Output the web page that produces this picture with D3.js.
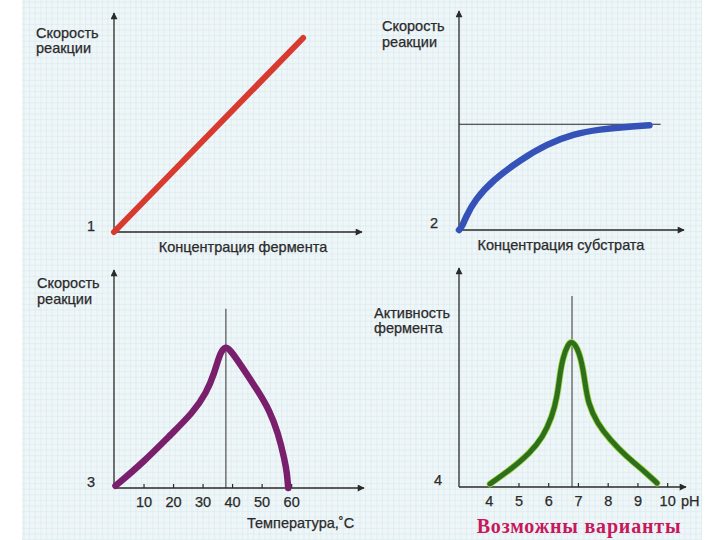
<!DOCTYPE html>
<html><head><meta charset="utf-8">
<script src="https://cdn.jsdelivr.net/npm/d3@7"></script>
<style>body{margin:0;background:#fff}svg{display:block}</style>
</head><body>
<svg id="c" width="720" height="540"></svg>
<script>
// ---- DATA ----
// Panel 1: rate vs enzyme concentration (linear)
const enzymeConc = [0, 7.75];
const rate1 = [0, 8.9];
// Panel 2: rate vs substrate concentration (saturation)
const substrateConc = [0, 0.13, 0.31, 0.71, 1.52, 2.72, 3.95, 5.1, 6.3, 7.5, 8.5];
const rate2 = [0, 0.14, 0.6, 1.38, 2.29, 3.21, 3.95, 4.4, 4.62, 4.74, 4.8];
const vmax = 4.85, vmaxEnd = 9.0;
// Panel 3: rate vs temperature
const temperature = [0.5, 9.7, 19.8, 26.6, 31.3, 34.0, 35.7, 37.4, 39.1, 42.5, 49.2, 52.6, 55.6, 57.8, 58.6, 59.0];
const rate3 = [0.1, 1.16, 2.55, 3.47, 4.4, 5.32, 6.16, 6.55, 6.45, 5.79, 4.4, 3.6, 2.55, 1.3, 0.69, 0.0];
const tempTicks = [10, 20, 30, 40, 50, 60];
const tempOpt = 37.9, tempOptTop = 8.3;
// Panel 4: enzyme activity vs pH
const ph = [4.04, 4.71, 5.39, 5.82, 6.13, 6.30, 6.40, 6.50, 6.67, 6.80, 6.97, 7.14, 7.24, 7.34, 7.64, 8.08, 8.65, 9.19, 9.66];
const activity = [0.14, 0.78, 1.57, 2.30, 3.23, 4.15, 5.25, 5.99, 6.6, 6.72, 6.45, 5.71, 4.79, 3.87, 2.95, 2.17, 1.38, 0.78, 0.18];
const phTicks = [4, 5, 6, 7, 8, 9, 10];
const phOpt = 6.8, phOptTop = 8.8;

const labels = {
  rate: ["Скорость", "реакции"],
  activity: ["Активность", "фермента"],
  x1: "Концентрация фермента",
  x2: "Концентрация субстрата",
  x3: "Температура,˚С",
  x4unit: "pH",
  note: "Возможны варианты"
};

// ---- DRAW ----
const svg = d3.select("#c");
const FONT = "'Liberation Sans', Arial, Helvetica, sans-serif";
const TXT = "#2a2a2a", AX = "#2a2a2a";

// graph-paper background
svg.append("rect").attr("x", 22).attr("y", 0).attr("width", 680).attr("height", 540).attr("fill", "#eef6f8");
const grid = svg.append("g").attr("stroke", "#d9e7ec").attr("stroke-width", 0.6);
d3.range(24, 702, 5.6).forEach(x => grid.append("line").attr("x1", x).attr("x2", x).attr("y1", 0).attr("y2", 540));
d3.range(2, 540, 5.6).forEach(y => grid.append("line").attr("x1", 22).attr("x2", 702).attr("y1", y).attr("y2", y));

const defs = svg.append("defs");
defs.append("marker").attr("id", "arr").attr("viewBox", "0 0 10 10").attr("refX", 9).attr("refY", 5)
  .attr("markerWidth", 10).attr("markerHeight", 7).attr("markerUnits", "userSpaceOnUse").attr("orient", "auto")
  .append("path").attr("d", "M0,0 L10,5 L0,10 z").attr("fill", AX);

function axes(x0, y0, x1, yTop) {
  svg.append("line").attr("x1", x0).attr("y1", y0).attr("x2", x0).attr("y2", yTop)
    .attr("stroke", AX).attr("stroke-width", 1.3).attr("marker-end", "url(#arr)");
  svg.append("line").attr("x1", x0).attr("y1", y0).attr("x2", x1).attr("y2", y0)
    .attr("stroke", AX).attr("stroke-width", 1.3).attr("marker-end", "url(#arr)");
}
function text(x, y, s, opts = {}) {
  return svg.append("text").attr("x", x).attr("y", y).text(s)
    .attr("font-family", opts.family || FONT).attr("font-size", opts.size || 14.5)
    .attr("fill", opts.fill || TXT).attr("text-anchor", opts.anchor || "start")
    .attr("font-weight", opts.weight || "normal")
    .attr("stroke", opts.fill || TXT).attr("stroke-width", opts.sw === undefined ? 0.25 : opts.sw);
}
function curve(xs, ys, sx, sy, color, width, under) {
  const pts = xs.map((v, i) => [v, ys[i]]);
  const line = d3.line().x(d => sx(d[0])).y(d => sy(d[1])).curve(d3.curveBasis);
  if (under) svg.append("path").attr("d", line(pts)).attr("fill", "none").attr("stroke", under)
      .attr("stroke-width", width + 1.6).attr("stroke-linecap", "round").attr("stroke-linejoin", "round");
  svg.append("path").attr("d", line(pts)).attr("fill", "none").attr("stroke", color)
    .attr("stroke-width", width).attr("stroke-linecap", "round").attr("stroke-linejoin", "round");
}
function styleAxis(g) {
  g.select(".domain").remove();
  g.selectAll("line").attr("stroke", AX).attr("stroke-width", 1.2);
  g.selectAll("text").attr("font-family", FONT).attr("font-size", 14.5).attr("fill", TXT)
    .attr("stroke", TXT).attr("stroke-width", 0.25);
}

// Panel 1
{
  const sx = d3.scaleLinear().domain([0, 10]).range([114, 358]);
  const sy = d3.scaleLinear().domain([0, 10]).range([232, 14]);
  axes(114, 232, 362, 13);
  curve(enzymeConc, rate1, sx, sy, "#d83a30", 6);
  text(36, 38, labels.rate[0]); text(36, 53, labels.rate[1]);
  text(87, 231, "1");
  text(243, 252, labels.x1, {anchor: "middle"});
}
// Panel 2
{
  const sx = d3.scaleLinear().domain([0, 10]).range([459, 683]);
  const sy = d3.scaleLinear().domain([0, 10]).range([230, 12]);
  svg.append("line").attr("x1", sx(0)).attr("x2", sx(vmaxEnd)).attr("y1", sy(vmax)).attr("y2", sy(vmax))
    .attr("stroke", AX).attr("stroke-width", 1.1);
  axes(459, 230, 684, 11);
  curve(substrateConc, rate2, sx, sy, "#3552b8", 6.5);
  text(382, 31, labels.rate[0]); text(382, 47, labels.rate[1]);
  text(430, 228, "2");
  text(561, 250, labels.x2, {anchor: "middle"});
}
// Panel 3
{
  const sx = d3.scaleLinear().domain([0, 84]).range([114, 362]);
  const sy = d3.scaleLinear().domain([0, 10]).range([488, 272]);
  const g = svg.append("g").attr("transform", "translate(0,488)")
    .call(d3.axisBottom(sx).tickValues(tempTicks).tickSize(-4).tickPadding(9));
  styleAxis(g);
  svg.append("line").attr("x1", sx(tempOpt)).attr("x2", sx(tempOpt)).attr("y1", sy(tempOptTop)).attr("y2", sy(0))
    .attr("stroke", "#444").attr("stroke-width", 1.1);
  axes(114, 488, 364, 270);
  curve(temperature, rate3, sx, sy, "#7a1f6c", 6.5);
  text(37, 288, labels.rate[0]); text(37, 304, labels.rate[1]);
  text(87, 487, "3");
  text(247, 528, labels.x3);
}
// Panel 4
{
  const sx = d3.scaleLinear().domain([3, 10.6]).range([459, 685]);
  const sy = d3.scaleLinear().domain([0, 10]).range([487, 270]);
  const g = svg.append("g").attr("transform", "translate(0,487)")
    .call(d3.axisBottom(sx).tickValues(phTicks).tickSize(-4).tickPadding(9));
  styleAxis(g);
  svg.append("line").attr("x1", sx(phOpt)).attr("x2", sx(phOpt)).attr("y1", sy(phOptTop)).attr("y2", sy(0))
    .attr("stroke", "#444").attr("stroke-width", 1.1);
  axes(459, 487, 686, 268);
  curve(ph, activity, sx, sy, "#2c6f1c", 5, "#a3d13e");
  text(374, 318, labels.activity[0]); text(374, 333, labels.activity[1]);
  text(434, 485, "4");
  text(681, 506, labels.x4unit);
  text(579, 533, labels.note, {family: "'Liberation Serif', 'Times New Roman', serif", size: 20, weight: "bold", fill: "#c8185c", anchor: "middle", sw: 0})
    .attr("letter-spacing", 0.8);
}
</script>
</body></html>
